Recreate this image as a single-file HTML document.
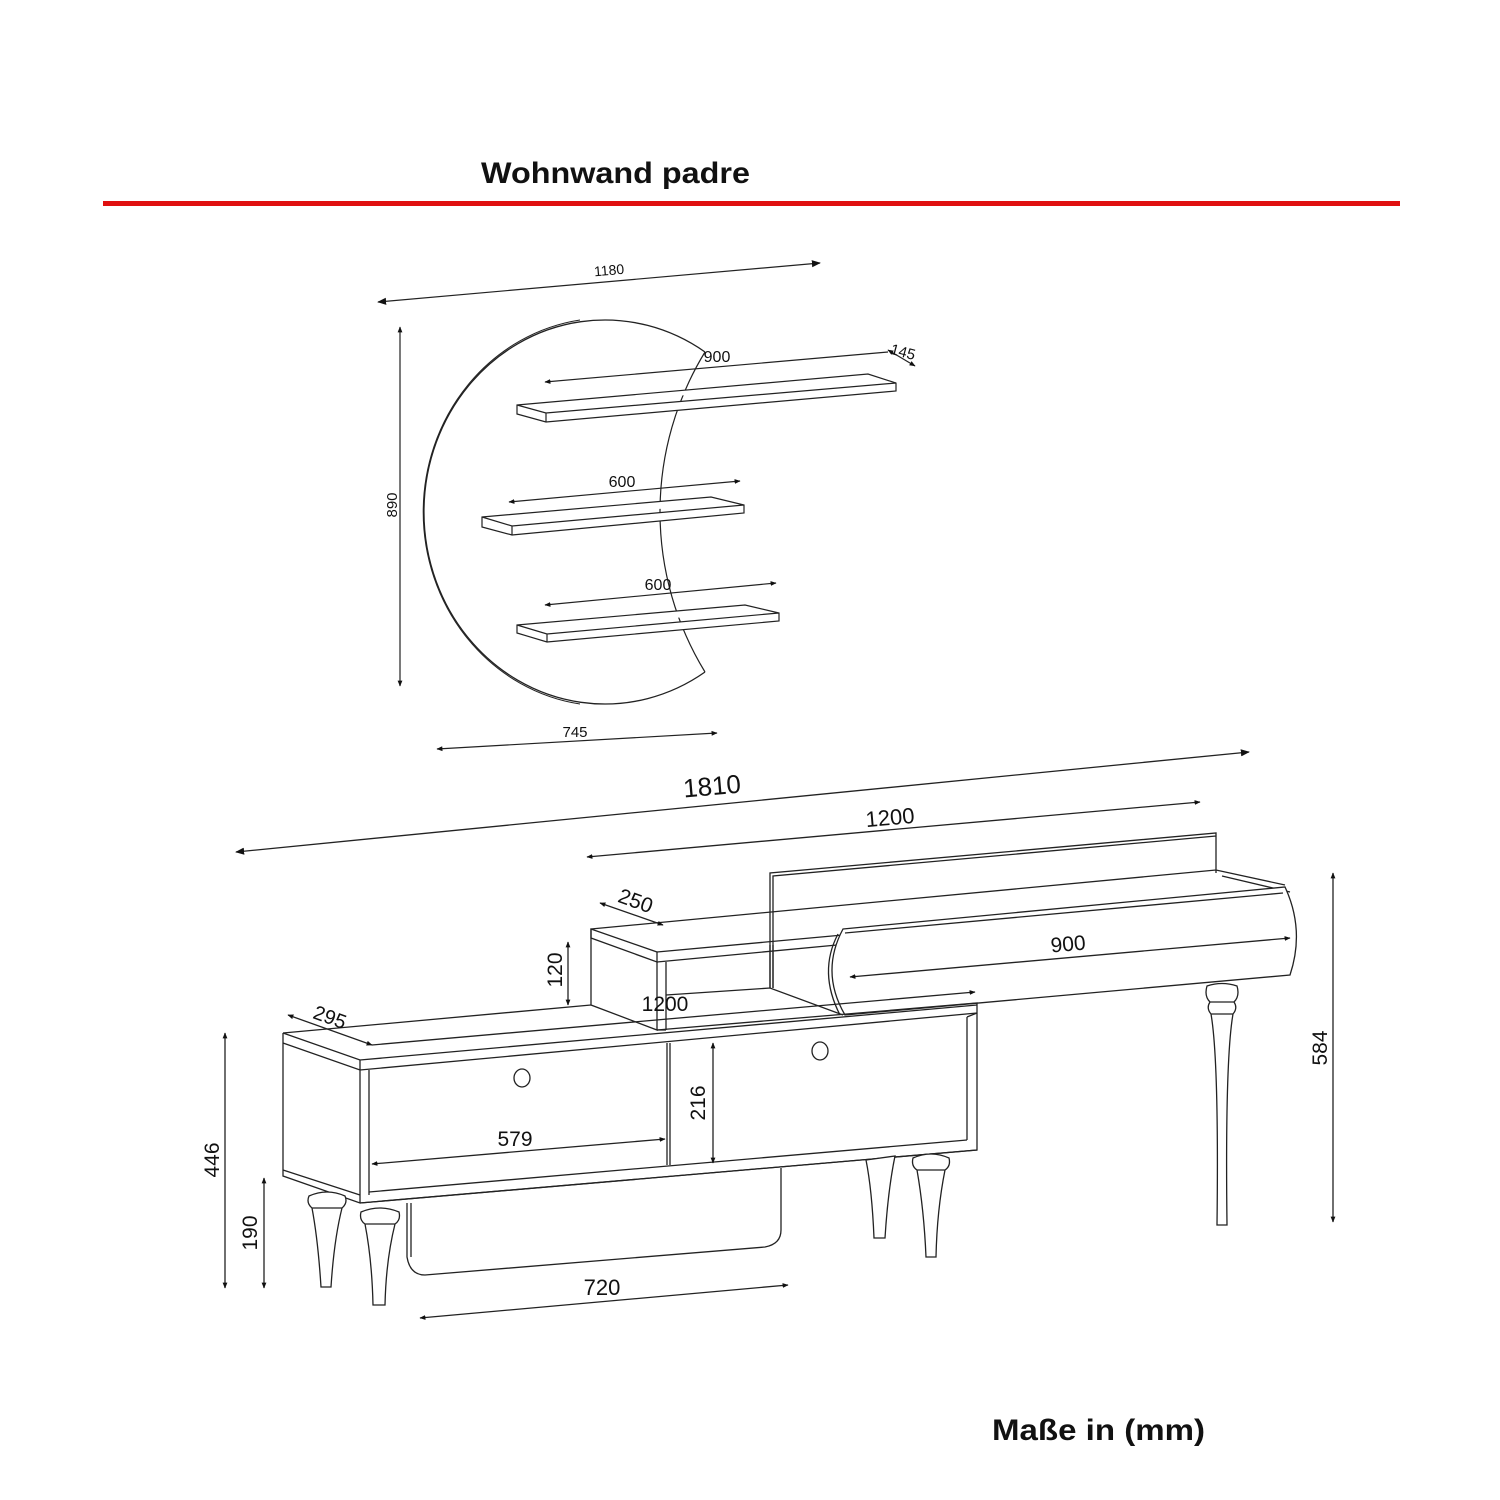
<!DOCTYPE html>
<html><head><meta charset="utf-8"><style>
html,body{margin:0;padding:0;background:#fff;}
svg{display:block;}
text{font-family:"Liberation Sans",sans-serif;fill:#111;}
</style></head><body>
<svg width="1500" height="1500" viewBox="0 0 1500 1500" xmlns="http://www.w3.org/2000/svg">
<defs>
<marker id="a" viewBox="0 0 10 10" refX="9" refY="5" markerWidth="9" markerHeight="9" orient="auto-start-reverse" markerUnits="userSpaceOnUse"><path d="M0,1 L10,5 L0,9 Z" fill="#111"/></marker>
<marker id="s" viewBox="0 0 10 10" refX="9" refY="5" markerWidth="6" markerHeight="6" orient="auto-start-reverse" markerUnits="userSpaceOnUse"><path d="M0,1 L10,5 L0,9 Z" fill="#111"/></marker>
</defs>
<text x="481" y="183" style="font-weight:bold;font-size:30px" textLength="269" lengthAdjust="spacingAndGlyphs">Wohnwand padre</text>
<rect x="103" y="201" width="1297" height="5" fill="#e01010"/>

<g fill="none" stroke="#222" stroke-width="1.2">
<line x1="378" y1="302" x2="820" y2="263" marker-start="url(#a)" marker-end="url(#a)"/>
<line x1="400" y1="327" x2="400" y2="686" marker-start="url(#s)" marker-end="url(#s)"/>
<line x1="437" y1="749" x2="717" y2="733" marker-start="url(#s)" marker-end="url(#s)"/>
<path d="M705,352 A181,192 0 1 0 705,672" stroke-width="1.3"/>
<path d="M580,320 A183,194 0 0 0 580,704" stroke-width="1"/>
<path d="M705,672 A307,307 0 0 1 705,352"/>
<path d="M517,405 L868,374 L896,383 L896,391 L546,422 L517,414 Z M517,405 L546,413 L896,383 M546,413 L546,422" fill="#fff"/>
<path d="M482,517 L711,497 L744,505 L744,513 L512,535 L482,527 Z M482,517 L512,526 L744,505 M512,526 L512,535" fill="#fff"/>
<path d="M517,625 L745,605 L779,613 L779,621 L547,642 L517,633 Z M517,625 L547,634 L779,613 M547,634 L547,642" fill="#fff"/>
<line x1="545" y1="382" x2="888" y2="352" marker-start="url(#s)"/>
<line x1="888" y1="350" x2="915" y2="366" marker-start="url(#s)" marker-end="url(#s)"/>
<line x1="509" y1="502" x2="740" y2="481" marker-start="url(#s)" marker-end="url(#s)"/>
<line x1="545" y1="605" x2="776" y2="583" marker-start="url(#s)" marker-end="url(#s)"/>
</g>
<text x="594" y="275" style="font-size:14px" transform="rotate(-5 610 270)">1180</text>
<text x="397" y="505" style="font-size:15px" text-anchor="middle" transform="rotate(-90 397 505)">890</text>
<text x="575" y="737" style="font-size:15px" text-anchor="middle">745</text>
<text x="717" y="362" style="font-size:16px" text-anchor="middle">900</text>
<text x="903" y="357" style="font-size:15px" text-anchor="middle" transform="rotate(15 903 352)">145</text>
<text x="622" y="487" style="font-size:16px" text-anchor="middle">600</text>
<text x="658" y="590" style="font-size:16px" text-anchor="middle">600</text>

<g fill="none" stroke="#222" stroke-width="1.3">
<line x1="236" y1="852" x2="1249" y2="752" marker-start="url(#a)" marker-end="url(#a)"/>
<line x1="587" y1="857" x2="1200" y2="802" marker-start="url(#s)" marker-end="url(#s)"/>
<line x1="1333" y1="873" x2="1333" y2="1222" marker-start="url(#s)" marker-end="url(#s)"/>
<line x1="225" y1="1033" x2="225" y2="1288" marker-start="url(#s)" marker-end="url(#s)"/>
<line x1="264" y1="1178" x2="264" y2="1288" marker-start="url(#s)" marker-end="url(#s)"/>
<line x1="420" y1="1318" x2="788" y2="1285" marker-start="url(#s)" marker-end="url(#s)"/>

<path d="M770,988 L770,873 L1216,833 L1216,866 M773,988 L773,876 L1216,836"/>
<path d="M591,929 L1216,870 L1285,885 M1216,866 L1216,873 M1222,876 L1290,892"/>
<path d="M591,929 L657,952 L657,962 L591,938 Z" fill="#fff"/>
<path d="M591,929 L591,1005 L657,1030 L657,962 M666,962 L666,1030 M657,1030 L666,1030"/>
<path d="M657,952 L843,935 M657,962 L837,945"/>
<path d="M666,995 L770,988 L843,1015"/>
<line x1="770" y1="945" x2="770" y2="988"/><line x1="773" y1="945" x2="773" y2="988"/>
<path d="M843,929 L1285,887 Q1305,930 1290,975 L845,1015 Q820,972 843,929 Z" fill="#fff"/>
<path d="M838,934 Q818,972 840,1015" />
<path d="M845,933 L1283,893"/>
<line x1="850" y1="977" x2="1290" y2="938" marker-start="url(#s)" marker-end="url(#s)"/>
<line x1="568" y1="942" x2="568" y2="1005" marker-start="url(#s)" marker-end="url(#s)"/>
<line x1="600" y1="903" x2="663" y2="925" marker-start="url(#s)" marker-end="url(#s)"/>

<path d="M283,1033 L591,1005 M657,1030 L977,1003 L977,1150 L360,1203 L283,1176 L283,1033"/>
<path d="M283,1033 L360,1060 L977,1005 M283,1043 L360,1070 L977,1013 M360,1060 L360,1203 M369,1070 L369,1195"/>
<path d="M369,1192 L967,1140 M360,1203 L977,1150 M283,1170 L360,1195"/>
<path d="M967,1017 L967,1140 M977,1013 L967,1017"/>
<path d="M667,1043 L667,1165 M670,1043 L670,1165"/>
<ellipse cx="522" cy="1078" rx="8" ry="9"/>
<ellipse cx="820" cy="1051" rx="8" ry="9"/>
<line x1="372" y1="1045" x2="975" y2="992" marker-end="url(#s)"/>
<line x1="288" y1="1015" x2="372" y2="1045" marker-start="url(#s)" marker-end="url(#s)"/>
<line x1="713" y1="1043" x2="713" y2="1163" marker-start="url(#s)" marker-end="url(#s)"/>
<line x1="372" y1="1164" x2="665" y2="1139" marker-start="url(#s)" marker-end="url(#s)"/>
<path d="M407,1203 L407,1257 Q410,1275 425,1275 L765,1247 Q781,1244 781,1230 L781,1168 M411,1203 L411,1257"/>

<g fill="#fff">
<path d="M309,1196 Q327,1188 345,1196 Q348,1203 342,1208 Q334,1240 331,1287 L321,1287 Q318,1240 312,1208 Q306,1203 309,1196 Z M312,1208 L342,1208"/>
<path d="M361,1212 Q380,1204 399,1212 Q401,1220 395,1224 Q386,1260 385,1305 L373,1305 Q372,1260 365,1224 Q359,1220 361,1212 Z M365,1224 L395,1224"/>
<path d="M866,1160 L895,1156 Q888,1190 885,1238 L874,1238 Q872,1190 866,1160 Z"/>
<path d="M913,1158 Q931,1150 949,1158 Q951,1166 945,1170 Q937,1210 936,1257 L926,1257 Q924,1210 917,1170 Q911,1166 913,1158 Z M917,1170 L945,1170"/>
<path d="M1207,986 Q1222,981 1237,986 Q1240,996 1234,1002 Q1238,1008 1233,1014 Q1225,1060 1227,1225 L1217,1225 Q1219,1060 1211,1014 Q1206,1008 1210,1002 Q1204,996 1207,986 Z M1210,1002 L1234,1002 M1211,1014 L1233,1014"/>
</g>
</g>
<text x="712" y="795" style="font-size:26px" text-anchor="middle" transform="rotate(-5 712 786)">1810</text>
<text x="890" y="825" style="font-size:22px" text-anchor="middle" transform="rotate(-5 890 817)">1200</text>
<text x="636" y="908" style="font-size:21px" text-anchor="middle" transform="rotate(20 636 900)">250</text>
<text x="555" y="970" style="font-size:21px" text-anchor="middle" transform="rotate(-90 555 970)" dy="7">120</text>
<text x="665" y="1011" style="font-size:21px" text-anchor="middle">1200</text>
<text x="1068" y="951" style="font-size:21px" text-anchor="middle" transform="rotate(-5 1068 943)">900</text>
<text x="330" y="1024" style="font-size:20px" text-anchor="middle" transform="rotate(20 330 1017)">295</text>
<text x="1320" y="1048" style="font-size:21px" text-anchor="middle" transform="rotate(-90 1320 1048)" dy="7">584</text>
<text x="698" y="1103" style="font-size:21px" text-anchor="middle" transform="rotate(-90 698 1103)" dy="7">216</text>
<text x="515" y="1146" style="font-size:21px" text-anchor="middle">579</text>
<text x="212" y="1160" style="font-size:21px" text-anchor="middle" transform="rotate(-90 212 1160)" dy="7">446</text>
<text x="250" y="1233" style="font-size:21px" text-anchor="middle" transform="rotate(-90 250 1233)" dy="7">190</text>
<text x="602" y="1295" style="font-size:22px" text-anchor="middle">720</text>
<text x="992" y="1440" style="font-weight:bold;font-size:30px" textLength="213" lengthAdjust="spacingAndGlyphs">Maße in (mm)</text>
</svg>
</body></html>
